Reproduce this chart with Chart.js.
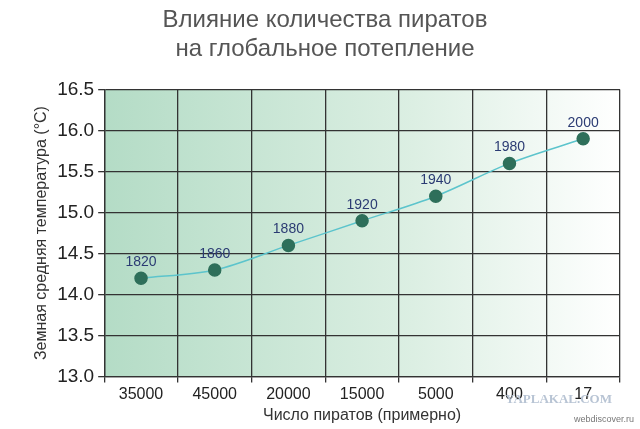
<!DOCTYPE html>
<html lang="ru">
<head>
<meta charset="UTF-8" />
<title>Влияние количества пиратов</title>
<script src="https://cdn.jsdelivr.net/npm/chart.js@4.4.0/dist/chart.umd.min.js"></script>
<style>
  html, body { margin: 0; background: #fff; }
  #wrap { width: 640px; height: 429px; }
</style>
</head>
<body>
<div id="wrap"><canvas id="c"></canvas></div>
<script>
const pirates = ['35000', '45000', '20000', '15000', '5000', '400', '17'];
const years = ['1820', '1860', '1880', '1920', '1940', '1980', '2000'];
const temps = [14.2, 14.3, 14.6, 14.9, 15.2, 15.6, 15.9];

const bgPlugin = {
  id: 'bg',
  beforeDraw(chart) {
    const { ctx, chartArea: a } = chart;
    const g = ctx.createLinearGradient(a.left, 0, a.right, 0);
    g.addColorStop(0, '#b4dcc6');
    g.addColorStop(0.6, '#dcefe3');
    g.addColorStop(1, '#ffffff');
    ctx.save();
    ctx.fillStyle = g;
    ctx.fillRect(a.left, a.top, a.right - a.left, a.bottom - a.top);
    ctx.restore();
  },
  afterDatasetsDraw(chart) {
    const { ctx } = chart;
    const meta = chart.getDatasetMeta(0);
    ctx.save();
    ctx.font = '14px "Liberation Sans", Arial, sans-serif';
    ctx.fillStyle = '#2b3b73';
    ctx.textAlign = 'center';
    ctx.textBaseline = 'bottom';
    meta.data.forEach((p, i) => ctx.fillText(years[i], p.x, p.y - 9));
    ctx.font = 'bold 13px "Liberation Serif", serif';
    ctx.fillStyle = '#b8c4d4';
    ctx.textAlign = 'right';
    ctx.fillText('YAPLAKAL.COM', 612, 406);
    ctx.font = '9px "Liberation Sans", sans-serif';
    ctx.fillStyle = '#777';
    ctx.fillText('webdiscover.ru', 634, 424);
    ctx.restore();
  }
};

new Chart(document.getElementById('c'), {
  type: 'line',
  data: {
    labels: pirates,
    datasets: [{
      data: temps,
      borderColor: '#5cc4cc',
      borderWidth: 1.5,
      tension: 0.4,
      cubicInterpolationMode: 'monotone',
      pointRadius: 6,
      pointBackgroundColor: '#2e6f5a',
      pointBorderColor: '#2e6f5a'
    }]
  },
  options: {
    responsive: true,
    maintainAspectRatio: false,
    animation: false,
    layout: { padding: { left: 30, right: 20, top: 0, bottom: 0 } },
    plugins: {
      legend: { display: false },
      tooltip: { enabled: false },
      title: {
        display: true,
        text: ['Влияние количества пиратов', 'на глобальное потепление'],
        color: '#555',
        font: { family: '"Liberation Sans", Arial, sans-serif', size: 24, weight: 'normal' },
        padding: { top: 6, bottom: 26 },
        lineHeight: 1.2
      }
    },
    scales: {
      x: {
        offset: true,
        grid: { offset: true, color: '#333', lineWidth: 1.3, tickLength: 6, drawTicks: true },
        border: { color: '#333', width: 1.3 },
        ticks: { color: '#222', font: { family: '"Liberation Sans", Arial, sans-serif', size: 16 }, padding: 2 },
        title: {
          display: true, text: 'Число пиратов (примерно)', color: '#333',
          font: { family: '"Liberation Sans", Arial, sans-serif', size: 16 }, padding: { top: 0, bottom: 4 }
        }
      },
      y: {
        min: 13, max: 16.5,
        grid: { color: '#333', lineWidth: 1.3, tickLength: 6 },
        border: { color: '#333', width: 1.3 },
        ticks: {
          stepSize: 0.5, color: '#222', padding: 4,
          font: { family: '"Liberation Sans", Arial, sans-serif', size: 19 },
          callback: v => v.toFixed(1)
        },
        title: {
          display: true, text: 'Земная средняя температура (°C)', color: '#333',
          font: { family: '"Liberation Sans", Arial, sans-serif', size: 16 }, padding: 2
        }
      }
    }
  },
  plugins: [bgPlugin]
});
</script>
</body>
</html>
